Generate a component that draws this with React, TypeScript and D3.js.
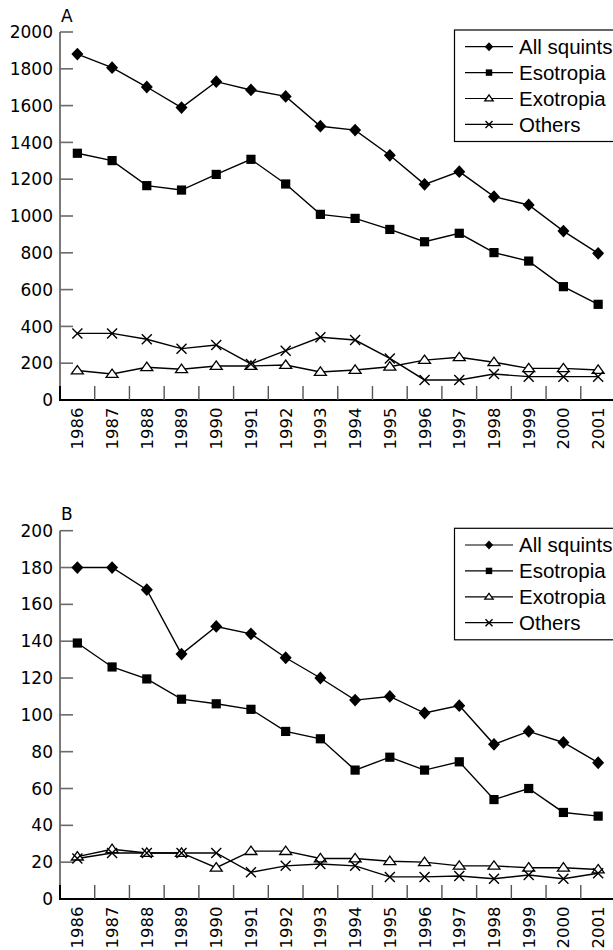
import React from "react";
import * as d3 from "d3";

const years = ["1986","1987","1988","1989","1990","1991","1992","1993","1994","1995","1996","1997","1998","1999","2000","2001"];
const seriesNames = ["All squints", "Esotropia", "Exotropia", "Others"];

const aAll = [1880,1806,1701,1589,1730,1685,1650,1488,1467,1330,1172,1241,1105,1060,918,797];
const aEso = [1341,1301,1165,1141,1226,1308,1174,1009,987,927,860,906,801,755,616,520];
const aExo = [160,141,178,167,185,185,190,152,163,181,217,232,205,172,172,163];
const aOth = [362,362,330,279,299,196,268,341,326,226,109,109,141,127,127,127];
const aTicks = [0,200,400,600,800,1000,1200,1400,1600,1800,2000];

const bAll = [180,180,168,133,148,144,131,120,108,110,101,105,84,91,85,74];
const bEso = [139,126,119.5,108.5,106,103,91,87,70,77,70,74.5,54,60,47,45];
const bExo = [23,27,25,25,17,26,26,22,22,20.5,20,18,18,17,17,16];
const bOth = [22,25,25,25,25,14.5,18,19,18,12,12,12.5,11,13,11,14];
const bTicks = [0,20,40,60,80,100,120,140,160,180,200];

const TICK_FONT = "'DejaVu Sans', sans-serif";
const LEG_FONT = "'Liberation Sans', Arial, sans-serif";

type MarkerKind = "diamond" | "square" | "triangle" | "cross";
const kinds: MarkerKind[] = ["diamond", "square", "triangle", "cross"];

function Marker({ kind, x, y, s }: { kind: MarkerKind; x: number; y: number; s: number }) {
  if (kind === "diamond") {
    const w = 6 * s, h = 6.4 * s;
    return <path d={`M${x},${y - h}L${x + w},${y}L${x},${y + h}L${x - w},${y}Z`} fill="#000" />;
  }
  if (kind === "square") {
    const a = 4.6 * s;
    return <rect x={x - a} y={y - a} width={2 * a} height={2 * a} fill="#000" />;
  }
  if (kind === "triangle") {
    const w = 6 * s, h = 8.4 * s;
    return (
      <path d={`M${x},${y - h * 0.6}L${x + w},${y + h * 0.4}L${x - w},${y + h * 0.4}Z`}
        fill="#fff" stroke="#000" strokeWidth={1.3} strokeLinejoin="miter" />
    );
  }
  const c = 5 * s;
  return (
    <path d={`M${x - c},${y - c}L${x + c},${y + c}M${x - c},${y + c}L${x + c},${y - c}`}
      stroke="#000" strokeWidth={1.4} fill="none" />
  );
}

function Panel({ label, top, y0, yTop, ticks, maxV, data, legendTop }: {
  label: string; top: number; y0: number; yTop: number; ticks: number[]; maxV: number;
  data: number[][]; legendTop: number;
}) {
  const x = d3.scaleBand<string>().domain(years).range([60, 615.5]).padding(0);
  const y = d3.scaleLinear().domain([0, maxV]).range([y0, yTop]);
  const cx = (yr: string) => (x(yr) as number) + x.bandwidth() / 2;
  const line = d3.line<number>().x((_, i) => cx(years[i])).y((v) => y(v));
  const rowH = 25.9;
  return (
    <g>
      <text x={61} y={top} fontFamily={TICK_FONT} fontSize={17} fill="#000">{label}</text>
      {/* y axis */}
      <line x1={60} x2={60} y1={yTop} y2={y0} stroke="#7a7a7a" strokeWidth={2} />
      <line x1={60} x2={60} y1={y0 - 14} y2={y0} stroke="#000" strokeWidth={2} />
      {ticks.map((t) => (
        <g key={t}>
          {t > 0 && <line x1={60} x2={73} y1={y(t)} y2={y(t)} stroke="#6a6a6a" strokeWidth={1.6} />}
          <text x={53} y={y(t)} dy="0.36em" textAnchor="end" fontFamily={TICK_FONT} fontSize={17} fill="#000">{t}</text>
        </g>
      ))}
      {/* x axis */}
      <line x1={59} x2={613} y1={y0} y2={y0} stroke="#000" strokeWidth={2} />
      {years.slice(1).map((yr) => (
        <line key={yr} x1={x(yr) as number} x2={x(yr) as number} y1={y0 - 14} y2={y0} stroke="#555" strokeWidth={1.4} />
      ))}
      {years.map((yr) => (
        <text key={yr} transform={`translate(${cx(yr)},${y0 + 7.5}) rotate(-90)`} dy="0.36em" textAnchor="end"
          fontFamily={TICK_FONT} fontSize={16.5} fill="#000">{yr}</text>
      ))}
      {/* series */}
      {data.map((vals, si) => (
        <path key={"l" + si} d={line(vals) as string} fill="none" stroke="#000" strokeWidth={1.4} />
      ))}
      {data.map((vals, si) => (
        <g key={"m" + si}>
          {vals.map((v, i) => (
            <Marker key={i} kind={kinds[si]} x={cx(years[i])} y={y(v)} s={1} />
          ))}
        </g>
      ))}
      {/* legend */}
      <rect x={454.5} y={legendTop} width={170} height={111.5} fill="#fff" stroke="#000" strokeWidth={1.2} />
      {seriesNames.map((n, i) => {
        const ry = legendTop + 16.7 + i * rowH;
        return (
          <g key={n}>
            <line x1={465} x2={513} y1={ry} y2={ry} stroke="#000" strokeWidth={1.2} />
            <Marker kind={kinds[i]} x={489} y={ry} s={0.7} />
            <text x={519} y={ry} dy="0.36em" fontFamily={LEG_FONT} fontSize={20.5} fill="#000">{n}</text>
          </g>
        );
      })}
    </g>
  );
}

export default function App() {
  return (
    <svg width={613} height={950} style={{ position: "absolute", left: 0, top: 0, background: "#fff" }}>
      <rect width={613} height={950} fill="#fff" />
      <Panel label="A" top={21.5} y0={400} yTop={32} ticks={aTicks} maxV={2000}
        data={[aAll, aEso, aExo, aOth]} legendTop={30} />
      <Panel label="B" top={519.5} y0={899} yTop={530.7} ticks={bTicks} maxV={200}
        data={[bAll, bEso, bExo, bOth]} legendTop={528.3} />
    </svg>
  );
}
